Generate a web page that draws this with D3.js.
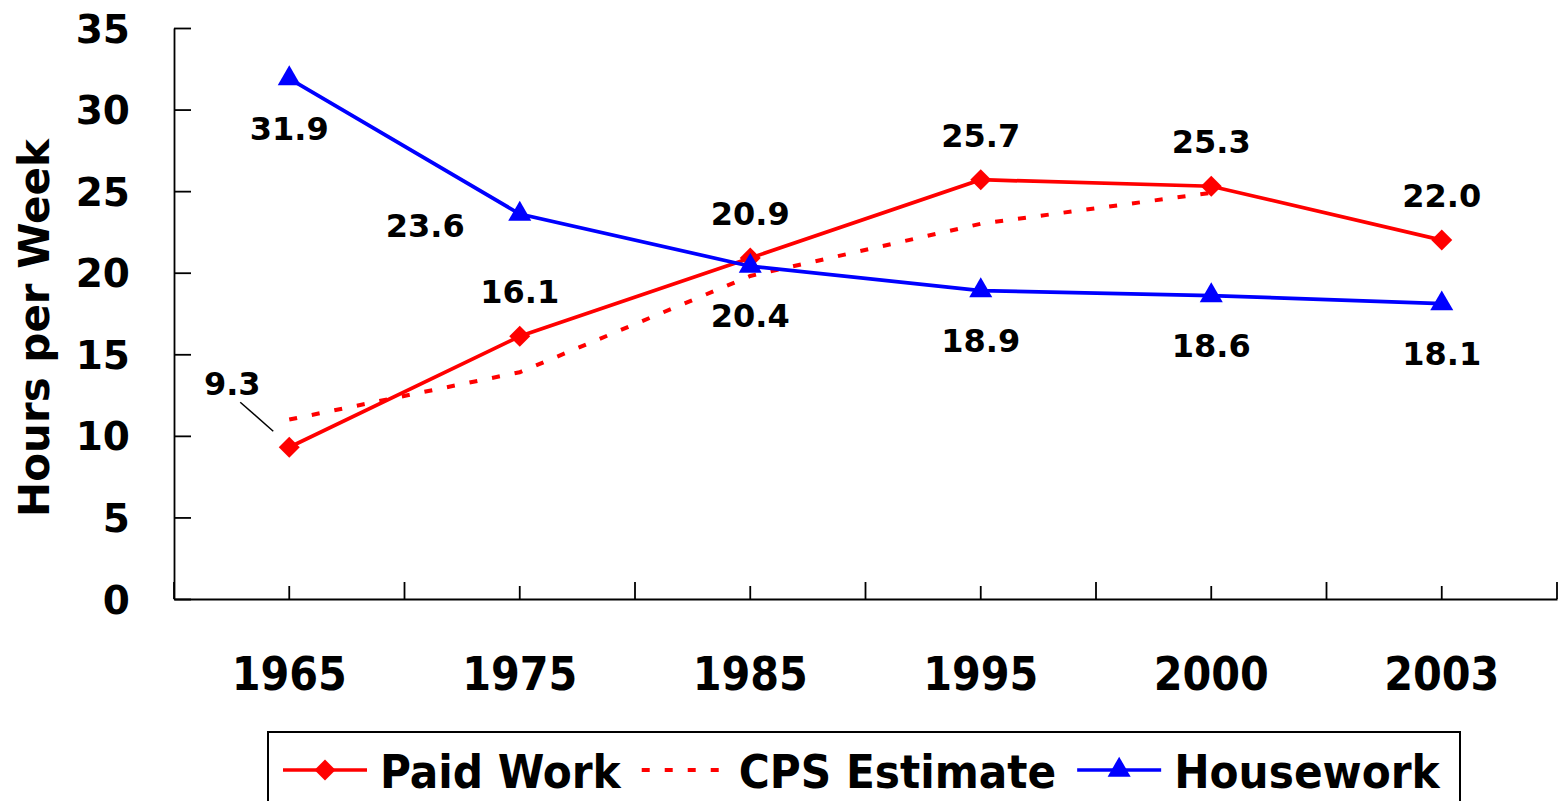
<!DOCTYPE html>
<html>
<head>
<meta charset="utf-8">
<script src="https://cdn.jsdelivr.net/npm/d3@7"></script>
<style>
  html, body { margin: 0; padding: 0; background: #fff; overflow: hidden; }
  svg { display: block; }
  .cond { font-family: 'DejaVu Sans Condensed', 'DejaVu Sans', sans-serif; font-stretch: condensed; font-weight: bold; }
  .wide { font-family: 'DejaVu Sans', Verdana, sans-serif; font-weight: bold; }
</style>
</head>
<body>
<svg id="chart" width="1558" height="801"></svg>
<script>
// ---- data ----
const years = ["1965", "1975", "1985", "1995", "2000", "2003"];
const paidWork = [9.3, 16.1, 20.9, 25.7, 25.3, 22.0];
const cpsEstimate = [11.0, 13.9, 19.8, 23.0, 24.9, null];
const housework = [31.9, 23.6, 20.4, 18.9, 18.6, 18.1];
const yTicks = [0, 5, 10, 15, 20, 25, 30, 35];
const seriesNames = ["Paid Work", "CPS Estimate", "Housework"];
// label placement per point
const paidPlace = ["leader", "above", "above", "above", "above", "above"];
const housePlace = ["below", "left", "below", "below", "below", "below"];

const svg = d3.select("#chart");
const plotL = 174, plotR = 1557, plotT = 28, plotB = 599;

const x = d3.scaleBand().domain(years).range([plotL, plotR]).padding(0);
const y = d3.scaleLinear().domain([0, 35]).range([plotB, plotT]);
const cx = d => x(d) + x.bandwidth() / 2;

// ---- y axis ----
const yAxis = svg.append("g")
  .attr("transform", `translate(${plotL},0)`)
  .call(d3.axisLeft(y).tickValues(yTicks).tickSize(-17).tickSizeOuter(0).tickPadding(44));
yAxis.select(".domain").attr("stroke", "#000").attr("stroke-width", 1.8);
yAxis.selectAll(".tick line").attr("stroke", "#000").attr("stroke-width", 1.8);
yAxis.selectAll(".tick text").attr("class", "wide").attr("font-size", 39).attr("fill", "#000").attr("dy", "0.36em");

// ---- x axis ----
const xAxis = svg.append("g")
  .attr("transform", `translate(0,${plotB})`)
  .call(d3.axisBottom(x).tickSize(-13).tickSizeOuter(0));
xAxis.select(".domain").attr("stroke", "#000").attr("stroke-width", 1.8);
xAxis.selectAll(".tick line").attr("stroke", "#000").attr("stroke-width", 1.8);
xAxis.selectAll(".tick text").attr("class", "cond").attr("font-size", 46).attr("fill", "#000")
  .attr("y", 91).attr("dy", 0);
// band boundary ticks
const edges = [x.range()[0]].concat(years.map(d => x(d) + x.bandwidth()));
xAxis.selectAll(".edge").data(edges).enter().append("line")
  .attr("x1", d => d).attr("x2", d => d).attr("y1", 0).attr("y2", -17)
  .attr("stroke", "#000").attr("stroke-width", 1.8);

// y axis title
svg.append("text").attr("class", "wide").attr("font-size", 42)
  .attr("transform", `translate(49,328) rotate(-90)`)
  .attr("text-anchor", "middle").text("Hours per Week");

// ---- lines ----
const red = "#ff0000", blue = "#0000ff";
const line = d3.line().defined(d => d.v != null).x(d => cx(d.k)).y(d => y(d.v));
const toPts = arr => years.map((k, i) => ({ k, v: arr[i] }));

svg.append("path").datum(toPts(cpsEstimate)).attr("d", line)
  .attr("fill", "none").attr("stroke", red).attr("stroke-width", 4).attr("stroke-dasharray", "8,15");
svg.append("path").datum(toPts(paidWork)).attr("d", line)
  .attr("fill", "none").attr("stroke", red).attr("stroke-width", 3.7);
svg.append("path").datum(toPts(housework)).attr("d", line)
  .attr("fill", "none").attr("stroke", blue).attr("stroke-width", 3.7);

const diamond = d3.symbol().type(d3.symbolSquare).size(220);
const tri = d3.symbol().type(d3.symbolTriangle).size(230);

svg.selectAll(".pw").data(toPts(paidWork)).enter().append("path")
  .attr("d", diamond).attr("fill", red)
  .attr("transform", d => `translate(${cx(d.k)},${y(d.v)}) rotate(45)`);
svg.selectAll(".hw").data(toPts(housework)).enter().append("path")
  .attr("d", tri).attr("fill", blue)
  .attr("transform", d => `translate(${cx(d.k)},${y(d.v)})`);

// ---- data labels ----
function label(k, v, place) {
  const px = cx(k), py = y(v);
  let tx = px, ty = py, anchor = "middle";
  if (place === "above") { ty = py - 33; }
  else if (place === "below") { ty = py + 61; }
  else if (place === "left") { tx = px - 55; ty = py + 23; anchor = "end"; }
  else if (place === "leader") {
    tx = px - 57; ty = py - 52;
    svg.append("line").attr("x1", px - 49).attr("y1", py - 45).attr("x2", px - 16).attr("y2", py - 16)
      .attr("stroke", "#000").attr("stroke-width", 1.5);
  }
  svg.append("text").attr("class", "wide").attr("font-size", 32).attr("fill", "#000")
    .attr("x", tx).attr("y", ty).attr("text-anchor", anchor).text(v.toFixed(1));
}
years.forEach((k, i) => label(k, paidWork[i], paidPlace[i]));
years.forEach((k, i) => label(k, housework[i], housePlace[i]));

// ---- legend ----
const lg = svg.append("g");
lg.append("rect").attr("x", 268).attr("y", 732).attr("width", 1192).attr("height", 80)
  .attr("fill", "#fff").attr("stroke", "#000").attr("stroke-width", 2);
let lx = 283;
const ly = 770;
seriesNames.forEach((name, i) => {
  const g = lg.append("g");
  const symW = 84;
  if (i === 1) {
    g.append("line").attr("x1", lx).attr("x2", lx + symW).attr("y1", ly).attr("y2", ly)
      .attr("stroke", red).attr("stroke-width", 4).attr("stroke-dasharray", "8,15");
  } else {
    const c = i === 0 ? red : blue;
    g.append("line").attr("x1", lx).attr("x2", lx + symW).attr("y1", ly).attr("y2", ly)
      .attr("stroke", c).attr("stroke-width", 3.7);
    g.append("path").attr("d", i === 0 ? diamond : tri).attr("fill", c)
      .attr("transform", `translate(${lx + symW / 2},${ly}) ${i === 0 ? "rotate(45)" : ""}`);
  }
  const t = g.append("text").attr("class", "cond").attr("font-size", 47).attr("fill", "#000")
    .attr("x", lx + symW + 13).attr("y", ly + 18).text(name);
  const w = t.node().getComputedTextLength();
  lx = lx + symW + 13 + w + 21;
});
</script>
</body>
</html>
